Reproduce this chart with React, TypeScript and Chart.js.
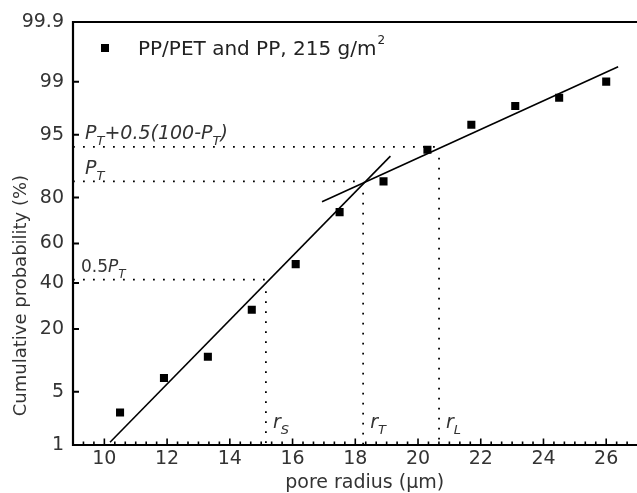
import React, { useEffect, useRef } from 'react';
import { Chart, registerables } from 'chart.js';

Chart.register(...registerables);

// ---- data ----
const poreRadius = [10.5, 11.9, 13.3, 14.7, 16.1, 17.5, 18.9, 20.3, 21.7, 23.1, 24.5, 26.0];
const cumulativeProb = [2.8, 7.1, 11.6, 27.6, 49.6, 74.4, 85.3, 92.7, 96.2, 97.8, 98.3, 99.0];

const fitLowX = [10.18, 19.12];
const fitLowP = [1.1, 91.5];
const fitHighX = [16.94, 26.38];
const fitHighP = [78.5, 99.41];

// construction (dotted) lines: r_S / r_T / r_L, their probability levels,
// and where each vertical dotted line starts
const refRadius = [15.15, 18.25, 20.67];
const refProb = [41.7, 85.3, 93.2];
const refVertTop = [36.0, 81.7, 91.2];
const refSub = ['S', 'T', 'L'];

const xTickValues = [10, 12, 14, 16, 18, 20, 22, 24, 26];
const yTickLabels = ['1', '5', '20', '40', '60', '80', '95', '99', '99.9'];

const X_MIN = 9;
const X_MAX = 26.8;
const P_MIN = 1;
const P_MAX = 99.9;

const legendLabel = 'PP/PET and PP, 215 g/m';
const legendSup = '2';
const xTitle = 'pore radius (\u03bcm)';
const yTitle = 'Cumulative probability (%)';

const FONT = "'DejaVu Sans', 'Liberation Sans', Arial, sans-serif";
const TEXT = '#333';

// inverse standard normal CDF (probability-axis transform)
function probit(pct: number): number {
  const p = pct / 100;
  const a = [-3.969683028665376e1, 2.209460984245205e2, -2.759285104469687e2, 1.38357751867269e2, -3.066479806614716e1, 2.506628277459239];
  const b = [-5.447609879822406e1, 1.615858368580409e2, -1.556989798598866e2, 6.680131188771972e1, -1.328068155288572e1];
  const c = [-7.784894002430293e-3, -3.223964580411365e-1, -2.400758277161838, -2.549671010422507, 4.374664141464968, 2.938163982698783];
  const d = [7.784695709041462e-3, 3.224671290700398e-1, 2.445134137142996, 3.754408661907416];
  const pl = 0.02425;
  if (p < pl) {
    const q = Math.sqrt(-2 * Math.log(p));
    return (((((c[0] * q + c[1]) * q + c[2]) * q + c[3]) * q + c[4]) * q + c[5]) / ((((d[0] * q + d[1]) * q + d[2]) * q + d[3]) * q + 1);
  }
  if (p <= 1 - pl) {
    const q = p - 0.5;
    const r = q * q;
    return ((((((a[0] * r + a[1]) * r + a[2]) * r + a[3]) * r + a[4]) * r + a[5]) * q) / (((((b[0] * r + b[1]) * r + b[2]) * r + b[3]) * r + b[4]) * r + 1);
  }
  const q = Math.sqrt(-2 * Math.log(1 - p));
  return -(((((c[0] * q + c[1]) * q + c[2]) * q + c[3]) * q + c[4]) * q + c[5]) / ((((d[0] * q + d[1]) * q + d[2]) * q + d[3]) * q + 1);
}

type Part = { t: string; sub?: boolean; italic?: boolean };

function drawParts(ctx: CanvasRenderingContext2D, parts: Part[], x: number, y: number, size: number) {
  let cx = x;
  ctx.textBaseline = 'alphabetic';
  ctx.textAlign = 'left';
  for (const p of parts) {
    const it = p.italic === false ? '' : 'italic ';
    if (p.sub) {
      ctx.font = `${it}${Math.round(size * 0.68)}px ${FONT}`;
      ctx.fillText(p.t, cx, y + 6);
    } else {
      ctx.font = `${it}${size}px ${FONT}`;
      ctx.fillText(p.t, cx, y);
    }
    cx += ctx.measureText(p.t).width;
  }
}

const decorPlugin = {
  id: 'decor',
  afterDatasetsDraw(chart: any) {
    const { ctx, chartArea } = chart;
    const xs = chart.scales.x;
    const ys = chart.scales.y;
    const L = chartArea.left;
    const T = chartArea.top;
    const B = chartArea.bottom;
    const R = chart.width;
    ctx.save();
    // frame (right side runs off the picture, as in the original)
    ctx.strokeStyle = '#000';
    ctx.lineWidth = 2.2;
    ctx.beginPath();
    ctx.moveTo(R + 2, T);
    ctx.lineTo(L, T);
    ctx.lineTo(L, B);
    ctx.lineTo(R + 2, B);
    ctx.stroke();
    // y ticks (inward)
    ctx.lineWidth = 2;
    ctx.beginPath();
    for (const t of ys.ticks) {
      const py = ys.getPixelForValue(t.value);
      ctx.moveTo(L, py);
      ctx.lineTo(L + 6, py);
    }
    ctx.stroke();
    // x ticks (major + minor, inward)
    ctx.lineWidth = 1.6;
    ctx.beginPath();
    for (let k = 0; ; k++) {
      const v = X_MIN + k / 3;
      if (v > X_MAX + 1e-9) break;
      const px = xs.getPixelForValue(v);
      const major = Math.abs(v - Math.round(v)) < 1e-6 && Math.round(v) % 2 === 0;
      ctx.moveTo(px, B);
      ctx.lineTo(px, B - (major ? 6.5 : 3.5));
    }
    ctx.stroke();

    // axis titles
    ctx.fillStyle = TEXT;
    ctx.textAlign = 'center';
    ctx.textBaseline = 'alphabetic';
    ctx.font = `19px ${FONT}`;
    ctx.fillText(xTitle, xs.getPixelForValue(18.3), 488);
    ctx.save();
    ctx.translate(26, ys.getPixelForValue(probit(34)));
    ctx.rotate(-Math.PI / 2);
    ctx.font = `18px ${FONT}`;
    ctx.fillText(yTitle, 0, 0);
    ctx.restore();

    // legend
    const ds = chart.data.datasets[0];
    ctx.fillStyle = '#000';
    ctx.fillRect(101, 44, 8, 8);
    ctx.fillStyle = '#222';
    ctx.font = `20px ${FONT}`;
    ctx.textBaseline = 'alphabetic';
    ctx.textAlign = 'left';
    ctx.fillText(ds.label, 138, 55);
    const w = ctx.measureText(ds.label).width;
    ctx.font = `12px ${FONT}`;
    ctx.fillText(legendSup, 138 + w + 1, 44);

    // construction-line labels
    ctx.fillStyle = TEXT;
    const pS = refProb[0];
    const pT = refProb[1];
    const pL = refProb[2];
    drawParts(ctx, [{ t: 'P' }, { t: 'T', sub: true }, { t: '+0.5(100-P' }, { t: 'T', sub: true }, { t: ')' }], L + 12, ys.getPixelForValue(probit(pL)) - 8, 19);
    drawParts(ctx, [{ t: 'P' }, { t: 'T', sub: true }], L + 12, ys.getPixelForValue(probit(pT)) - 7, 19);
    drawParts(ctx, [{ t: '0.5', italic: false }, { t: 'P' }, { t: 'T', sub: true }], L + 8, ys.getPixelForValue(probit(pS)) - 8, 17);
    refRadius.forEach((r, i) => {
      drawParts(ctx, [{ t: 'r' }, { t: refSub[i], sub: true }], xs.getPixelForValue(r) + 7, B - 17, 19);
    });
    ctx.restore();
  },
};

export default function App() {
  const ref = useRef<HTMLCanvasElement | null>(null);

  useEffect(() => {
    document.body.style.margin = '0';
    const canvas = ref.current;
    if (!canvas) return;

    const dottedStyle = {
      showLine: true,
      borderColor: '#000',
      borderWidth: 1.8,
      borderDash: [1.8, 8.2],
      pointRadius: 0,
      fill: false,
    };
    const horizontals = refRadius.map((r, i) => ({
      label: 'level ' + refSub[i],
      data: [
        { x: X_MIN, y: probit(refProb[i]) },
        { x: r, y: probit(refProb[i]) },
      ],
      ...dottedStyle,
    }));
    const verticals = refRadius.map((r, i) => ({
      label: 'r ' + refSub[i],
      data: [
        { x: r, y: probit(refVertTop[i]) },
        { x: r, y: probit(P_MIN) },
      ],
      ...dottedStyle,
    }));

    const chart = new Chart(canvas, {
      type: 'scatter',
      data: {
        datasets: [
          {
            label: legendLabel,
            data: poreRadius.map((x, i) => ({ x, y: probit(cumulativeProb[i]) })),
            pointStyle: 'rect',
            pointRadius: 5.7,
            backgroundColor: '#000',
            borderColor: '#000',
            borderWidth: 0,
          },
          {
            label: 'fit low',
            data: fitLowX.map((x, i) => ({ x, y: probit(fitLowP[i]) })),
            showLine: true,
            borderColor: '#000',
            borderWidth: 1.6,
            pointRadius: 0,
          },
          {
            label: 'fit high',
            data: fitHighX.map((x, i) => ({ x, y: probit(fitHighP[i]) })),
            showLine: true,
            borderColor: '#000',
            borderWidth: 1.6,
            pointRadius: 0,
          },
          ...horizontals,
          ...verticals,
        ] as any,
      },
      options: {
        animation: false,
        responsive: false,
        events: [],
        layout: { padding: { top: 22, left: 0, right: 0, bottom: 0 } },
        plugins: { legend: { display: false }, tooltip: { enabled: false } },
        scales: {
          x: {
            type: 'linear',
            min: X_MIN,
            max: X_MAX,
            grid: { display: false, drawTicks: false },
            border: { display: false },
            afterBuildTicks: (s: any) => {
              s.ticks = xTickValues.map((v) => ({ value: v }));
            },
            afterFit: (s: any) => {
              s.height = 48;
            },
            ticks: {
              color: TEXT,
              font: { family: FONT, size: 19 },
              padding: 3,
              maxRotation: 0,
              autoSkip: false,
              callback: (v: any) => String(v),
            },
            title: { display: false, text: xTitle },
          },
          y: {
            type: 'linear',
            min: probit(P_MIN),
            max: probit(P_MAX),
            grid: { display: false, drawTicks: false },
            border: { display: false },
            afterBuildTicks: (s: any) => {
              s.ticks = yTickLabels.map((l) => ({ value: probit(parseFloat(l)) }));
            },
            afterFit: (s: any) => {
              s.width = 73;
            },
            ticks: {
              color: TEXT,
              font: { family: FONT, size: 19 },
              padding: 9,
              autoSkip: false,
              callback: (_v: any, i: number) => yTickLabels[i],
            },
            title: { display: false, text: yTitle },
          },
        },
      } as any,
      plugins: [decorPlugin],
    });

    return () => chart.destroy();
  }, []);

  return (
    <div style={{ width: 637, height: 493 }}>
      <canvas ref={ref} width={637} height={493} style={{ display: 'block', width: 637, height: 493 }} />
    </div>
  );
}
